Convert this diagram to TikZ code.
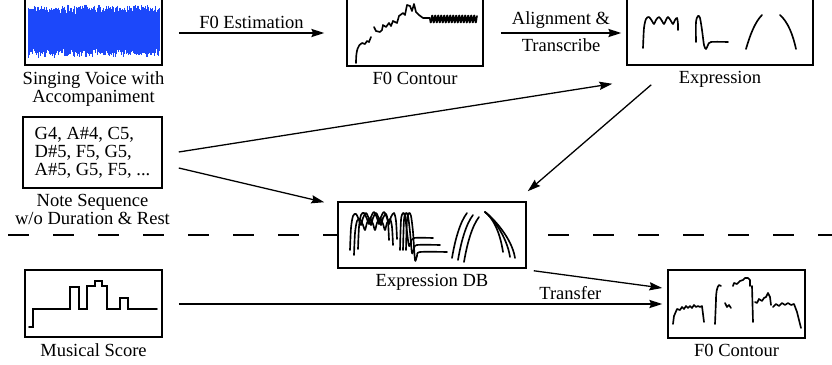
\documentclass[tikz,border=0pt]{standalone}
\usepackage{fontspec}
\setmainfont{Liberation Serif}
\newfontfamily\capfont{Liberation Serif}
\usetikzlibrary{positioning,calc,arrows.meta}

\definecolor{waveblue}{RGB}{28,72,250}

\begin{document}
\begin{tikzpicture}[
    x=0.03cm, y=-0.03cm,
    every node/.style={font=\capfont\fontsize{15.8}{15.5}\selectfont},
    box/.style={rectangle, draw, line width=1.3pt, fill=white, inner sep=0pt},
    caption/.style={align=center, inner sep=0pt},
    flow/.style={-{Stealth[length=11pt,width=7pt,inset=1.5pt]}, line width=1.1pt},
    sketch/.style={line width=1.4pt, line join=round, line cap=round},
    separator/.style={line width=1.3pt, dash pattern=on 0.63cm off 0.72cm}
]
\useasboundingbox (0,0) rectangle (832,365);

% Separator between analysis and synthesis
\coordinate (sepL) at (8,235);
\coordinate (sepR) at (840,235);
\draw[separator] (sepL) -- (sepR);

% Boxes
\node[box, minimum width=4.11cm, minimum height=2.01cm] (wave) at (93.5,31.5) {};
\node[box, minimum width=4.08cm, minimum height=2.04cm] (f0) at (415,32) {};
\node[box, minimum width=5.58cm, minimum height=2.01cm] (expr) at (720,31.5) {};
\node[box, minimum width=4.17cm, minimum height=2.13cm, align=left] (notes) at (92.5,152.5) {G4, A\#4, C5,\\D\#5, F5, G5,\\A\#5, G5, F5, ...};
\node[box, minimum width=5.64cm, minimum height=1.98cm] (db) at (432,235) {};
\node[box, minimum width=4.11cm, minimum height=2.01cm] (score) at (93.5,303.5) {};
\node[box, minimum width=4.11cm, minimum height=2.04cm] (f0out) at (736.5,304) {};

% Captions
\node[caption, below=4.5pt of wave] {Singing Voice with\\Accompaniment};
\node[caption, below=4.5pt of f0] {F0 Contour};
\node[caption, below=4.5pt of expr] {Expression};
\node[caption, below=4.5pt of notes] {Note Sequence\\w/o Duration \& Rest};
\node[caption, below=4.5pt of db] {Expression DB};
\node[caption, below=4.5pt of score] {Musical Score};
\node[caption, below=4.5pt of f0out] {F0 Contour};

% Waveform
\pgfmathsetseed{7}
\foreach \x in {28,28.6,...,160}
    \draw[waveblue, line width=0.6pt] (\x,{9+3*rand+2.5*rand}) -- (\x,{53+3*rand+2.5*rand});

% F0 contour (analysis)
\draw[sketch] (356,63) .. controls (356,50) and (358,45) .. (362,43) -- (365,44) -- (367,41) -- (369,42) -- (371,37);
\draw[sketch] (374,27) -- (376,31) -- (380,32) -- (382,30) -- (383,25) -- (386,27) -- (389,23) -- (391,26) -- (393,21)
    -- (397,23) -- (399,16) -- (403,13) -- (405,15) -- (407,5) -- (410,6) -- (412,11) -- (414,4) -- (416,12)
    -- (419,15) -- (423,18) -- (430,18);
\draw[sketch] plot[domain=0:47, samples=240] ({\x+430},{19+3.5*sin(\x*120)});

% Expression
\draw[sketch] plot[smooth, tension=0.5] coordinates {(643,48) (644,28) (646,19) (649,17) (652,21) (654,24) (656,20)
    (659,17) (662,21) (664,24) (666,20) (668,17) (671,21) (673,24) (675,20) (677,18) (678,24) (678,30)};
\draw[sketch] plot[smooth, tension=0.5] coordinates {(696,42) (696,22) (698,16) (700,18) (702,30) (704,45) (706,49)
    (708,45) (711,42) (728,42)};
\draw[sketch] (746,49) .. controls (750,35) and (755,22) .. (762,15);
\draw[sketch] (780,15) .. controls (788,22) and (793,35) .. (796,49);

% Expression DB
\foreach \dx/\dy in {0/0, 4/5, 8/-1}
    \draw[sketch, shift={(\dx,\dy)}] plot[smooth, tension=0.5] coordinates {(350,250) (351,228) (353,216) (356,214)
        (359,220) (361,225) (363,218) (366,213) (369,219) (371,225) (373,218) (376,213) (379,219) (381,225)
        (383,218) (386,214) (388,222) (389,240)};
\foreach \dx/\fy/\fx in {0/238/433, 3/245/440, 6/252/447}
    \draw[sketch] plot[smooth, tension=0.5] coordinates {(400+\dx,250) (401+\dx,220) (403+\dx,213) (405+\dx,216)
        (407+\dx,232) (409+\dx,\fy+8) (411+\dx,\fy+4) (414+\dx,\fy) (\fx,\fy)};
\foreach \dx/\dy in {0/0, 6/2, 12/4}
    \draw[sketch, shift={(\dx,\dy)}] (452,258) .. controls (455,240) and (460,222) .. (467,213);
\foreach \ex/\ey in {503/252, 510/257, 515/258}
    \draw[sketch] (485,212) .. controls (493,218) and (\ex-3,\ey-20) .. (\ex,\ey);

% Musical score
\draw[sketch, line join=miter] (29,327) -- (33,327) -- (33,309) -- (70,309) -- (70,287) -- (79,287) -- (79,309)
    -- (87,309) -- (87,286) -- (95,286) -- (95,281) -- (102,281) -- (102,286) -- (107,286) -- (107,309)
    -- (120,309) -- (120,298) -- (128,298) -- (128,309) -- (157,309);

% F0 contour (synthesis)
\draw[sketch] (673,324) -- (674,316) -- (677,309) -- (680,310) -- (682,307) -- (684,309) -- (686,306) -- (688,308)
    -- (690,306) -- (692,308) -- (694,305) -- (696,307) -- (698,306) -- (700,307) -- (702,306) -- (704,322);
\draw[sketch] (715,324) -- (716,300) .. controls (716,292) and (717,287) .. (719,285) -- (721,286);
\draw[sketch] (725,303) -- (727,307) -- (729,305) -- (731,308);
\draw[sketch] (733,286) -- (734,283) -- (737,284) -- (740,281) -- (743,280) -- (745,278) -- (748,278) -- (750,280)
    -- (750,286);
\draw[sketch] (752,286) -- (753,322);
\draw[sketch] (755,302) -- (757,303) -- (759,299) -- (762,301) -- (764,298) -- (766,297) -- (768,293) -- (770,297)
    -- (771,305);
\draw[sketch] (773,307) -- (776,304) -- (779,306) -- (782,303) -- (785,305) -- (788,303) -- (791,305) -- (794,304)
    -- (797,312) -- (801,328);

% Connections
\draw[flow] ($(wave.east)+(16,1.5)$) -- node[above=0pt] {F0 Estimation} ($(f0.west)+(-22,1)$);
\draw[flow] ($(f0.east)+(17,1)$) -- node[above=0pt] {Alignment \&} node[below=1pt] {Transcribe} ($(expr.west)+(-5,1.5)$);
\draw[flow] ($(notes.east)+(16,-0.5)$) -- ($(expr.south west)+(-14,18)$);
\draw[flow] ($(expr.south west)+(25,19)$) -- ($(db.north east)+(1,-10)$);
\draw[flow] ($(notes.east)+(16,15.5)$) -- ($(db.north west)+(-13,1)$);
\draw[flow] ($(db.south east)+(7,2)$) -- ($(f0out.west)+(-5,-16)$);
\draw[flow] ($(score.east)+(16,0.5)$) -- node[above=0pt, pos=0.81] {Transfer} ($(f0out.west)+(-5,0)$);

\end{tikzpicture}
\end{document}
